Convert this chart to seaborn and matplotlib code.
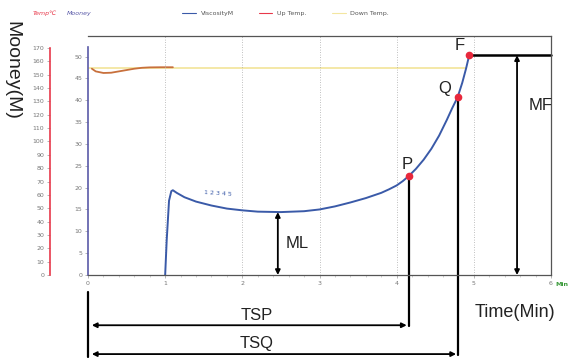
import seaborn as sns
import pandas as pd
import matplotlib.pyplot as plt
from matplotlib.ticker import MultipleLocator

# Viscosity (Mooney) curve
visc_time = [1.00, 1.02, 1.05, 1.08, 1.10, 1.15, 1.25, 1.40, 1.60, 1.80, 2.00, 2.20, 2.50,
             2.80, 3.00, 3.20, 3.40, 3.60, 3.80, 3.90, 4.00, 4.08, 4.16, 4.25, 4.35, 4.45,
             4.55, 4.65, 4.72, 4.79, 4.85, 4.90, 4.94]
visc_m = [0.0, 8.0, 17.0, 19.2, 19.4, 18.8, 17.8, 16.8, 15.9, 15.2, 14.8, 14.5, 14.4,
          14.6, 15.0, 15.7, 16.6, 17.6, 18.8, 19.6, 20.5, 21.5, 22.7, 24.3, 26.4, 28.9,
          31.9, 35.5, 38.2, 40.7, 44.0, 47.3, 50.3]

# Temperatures (deg C)
up_time = [0.05, 0.10, 0.20, 0.30, 0.45, 0.60, 0.70, 0.80, 0.95, 1.10]
up_temp = [154.5, 152.5, 151.3, 151.5, 153.0, 154.5, 155.2, 155.5, 155.6, 155.6]
down_time = [0.0, 4.90]
down_temp = [155.0, 155.0]

# Key points
p_pt = (4.16, 22.7)
q_pt = (4.79, 40.7)
f_pt = (4.94, 50.3)
ml_x, ml_val = 2.46, 14.4

visc = pd.DataFrame({'Time': visc_time, 'Mooney': visc_m})
up = pd.DataFrame({'Time': up_time, 'Temp': up_temp})
down = pd.DataFrame({'Time': down_time, 'Temp': down_temp})

sns.set_style('white')
plt.rcParams['font.family'] = ['DejaVu Sans']

fig = plt.figure(figsize=(5.71, 3.58), dpi=100)
ax = fig.add_axes([88 / 571, 1 - 275 / 358, 463 / 571, 239 / 358])
ax.set_xlim(0, 6)
ax.set_ylim(0, 54.7)

# temperature axis on the far left
ax2 = ax.twinx()
ax2.set_ylim(0, 179)
ax2.yaxis.set_ticks_position('left')
ax2.spines['left'].set_visible(True)
ax2.spines['left'].set_position(('outward', 27.4))
ax2.spines['left'].set_color('#e8384a')
ax2.spines['left'].set_linewidth(1.2)
ax2.spines['left'].set_bounds(0, 170)
for s in ['right', 'top', 'bottom']:
    ax2.spines[s].set_visible(False)
ax2.set_yticks(range(0, 171, 10))
ax2.tick_params(axis='y', labelsize=4.5, labelcolor='#777777', length=2, width=0.5,
                color='#999999', pad=2)

# grid
for gx in [1, 2, 3, 4, 5]:
    ax.axvline(gx, color='#aaaaaa', lw=0.6, ls=(0, (1, 2)), zorder=0)

sns.lineplot(data=down, x='Time', y='Temp', ax=ax2, color='#f3e6a0', lw=1.3, zorder=2)
sns.lineplot(data=up, x='Time', y='Temp', ax=ax2, color='#c8703c', lw=1.3, zorder=3)
ax2.set_ylabel('')
ax2.set_xlabel('')

ax.set_zorder(ax2.get_zorder() + 1)
ax.patch.set_visible(False)
sns.lineplot(data=visc, x='Time', y='Mooney', ax=ax, color='#3a5aa8', lw=1.4)
ax.set_xlabel('')
ax.set_ylabel('')

# spines of main axis
for s in ['top', 'right', 'bottom']:
    ax.spines[s].set_color('#555555')
    ax.spines[s].set_linewidth(0.9)
ax.spines['left'].set_color('#5a5aa8')
ax.spines['left'].set_linewidth(1.2)
ax.spines['left'].set_bounds(0, 52.2)
ax.set_yticks(range(0, 51, 5))
ax.set_xticks(range(0, 7))
ax.xaxis.set_minor_locator(MultipleLocator(0.2))
ax.tick_params(axis='both', which='major', labelsize=4.5, labelcolor='#777777', length=2,
               width=0.5, color='#999999', pad=2, left=True, bottom=True)
ax.tick_params(axis='x', which='minor', length=1.2, width=0.4, color='#aaaaaa', bottom=True)

# key points and annotations
ax.plot([f_pt[0], 6], [f_pt[1], f_pt[1]], color='black', lw=1.8, clip_on=False)
ax.plot([p_pt[0], p_pt[0]], [p_pt[1], -11.6], color='black', lw=1.6, clip_on=False)
ax.plot([q_pt[0], q_pt[0]], [q_pt[1], -18.4], color='black', lw=1.6, clip_on=False)
ax.plot([0, 0], [-3.9, -18.8], color='black', lw=1.6, clip_on=False)
for pt in [p_pt, q_pt, f_pt]:
    ax.plot(*pt, 'o', color='#e8283c', ms=4.5, zorder=5, clip_on=False)

arrow = dict(arrowstyle='<|-|>', color='black', lw=1.3, mutation_scale=7,
             shrinkA=0, shrinkB=0)
ax.annotate('', xy=(ml_x, 0), xytext=(ml_x, ml_val), arrowprops=arrow)
ax.annotate('', xy=(5.56, 0), xytext=(5.56, f_pt[1]), arrowprops=arrow)
ax.annotate('', xy=(0.05, -11.5), xytext=(4.13, -11.5), arrowprops=arrow,
            annotation_clip=False)
ax.annotate('', xy=(0.05, -18.1), xytext=(4.77, -18.1), arrowprops=arrow,
            annotation_clip=False)

big = dict(fontsize=12, color='#222222', family='Liberation Sans', clip_on=False)
ax.text(ml_x + 0.1, 7.3, 'ML', va='center', ha='left', **big)
ax.text(5.71, 38.9, 'MF', va='center', ha='left', **big)
ax.text(2.19, -9.2, 'TSP', va='center', ha='center', **big)
ax.text(2.19, -15.6, 'TSQ', va='center', ha='center', **big)
ax.text(5.53, -8.5, 'Time(Min)', va='center', ha='center', fontsize=13,
        color='#222222', family='Liberation Sans', clip_on=False)
ax.text(p_pt[0] - 0.03, p_pt[1] + 0.8, 'P', va='bottom', ha='center', **big)
ax.text(q_pt[0] - 0.09, q_pt[1] + 0.3, 'Q', va='bottom', ha='right', **big)
ax.text(f_pt[0] - 0.06, f_pt[1] + 0.6, 'F', va='bottom', ha='right', **big)
ax.text(1.69, 18.6, '1 2 3 4 5', fontsize=4.5, color='#3a5aa8', rotation=-4,
        ha='center', va='center')
ax.text(6.06, -2.2, 'Min', fontsize=4.5, color='#3a9a3a', fontweight='bold',
        ha='left', va='center', clip_on=False)

fig.text(12 / 571, 1 - 70 / 358, 'Mooney(M)', rotation=270, fontsize=14,
         family='Liberation Sans', color='#222222', ha='center', va='center')
fig.text(33 / 571, 1 - 13 / 358, 'Temp\u2103', fontsize=4.5, style='italic',
         color='#e8384a', ha='left', va='center')
fig.text(67 / 571, 1 - 13 / 358, 'Mooney', fontsize=4.5, style='italic',
         color='#5a5aa8', ha='left', va='center')

# legend
handles = [plt.Line2D([], [], color='#3a5aa8', lw=0.8),
           plt.Line2D([], [], color='#e8384a', lw=0.8),
           plt.Line2D([], [], color='#f3e6a0', lw=0.8)]
fig.legend(handles, ['ViscosityM', 'Up Temp.', 'Down Temp.'], loc='center',
           bbox_to_anchor=(0.5, 1 - 13 / 358), ncol=3, frameon=False, fontsize=4.5,
           handlelength=2.2, columnspacing=4, labelcolor='#555555')

fig.savefig('out.png', dpi=100)
